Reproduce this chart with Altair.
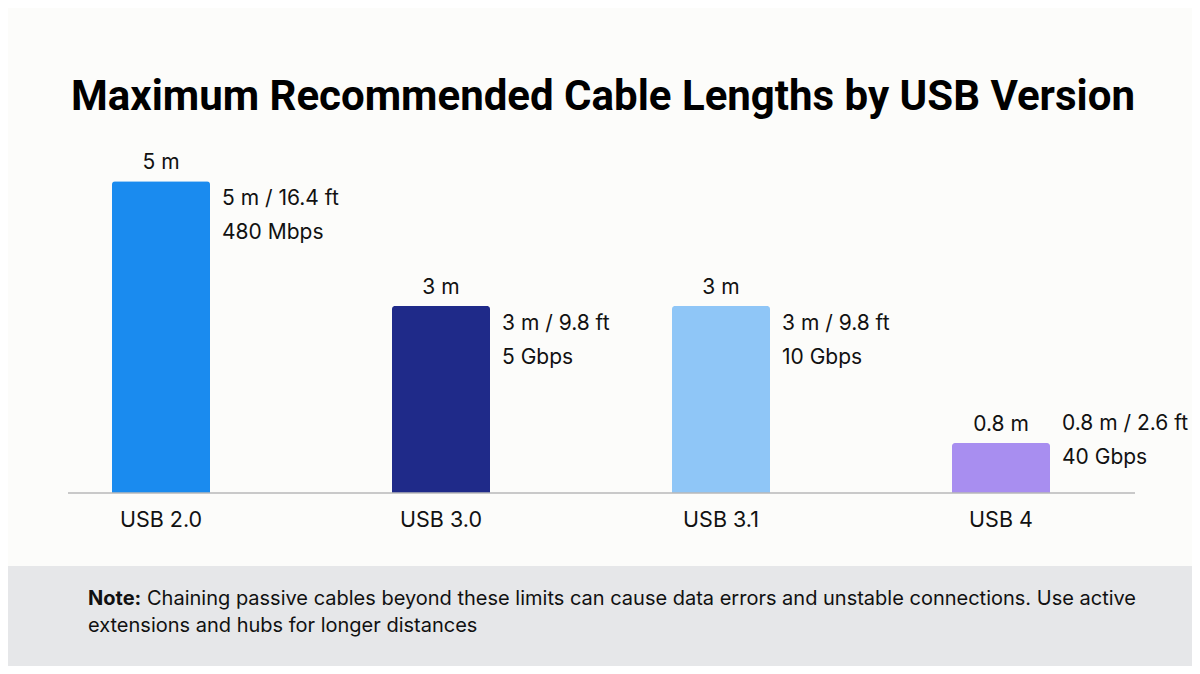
import altair as alt
import pandas as pd

# ---- data ----
versions = ["USB 2.0", "USB 3.0", "USB 3.1", "USB 4"]
lengths_m = [5, 3, 3, 0.8]
length_labels = ["5 m", "3 m", "3 m", "0.8 m"]
length_detail = ["5 m / 16.4 ft", "3 m / 9.8 ft", "3 m / 9.8 ft", "0.8 m / 2.6 ft"]
speeds = ["480 Mbps", "5 Gbps", "10 Gbps", "40 Gbps"]
bar_colors = ["#1a8bef", "#1f2a89", "#8fc6f7", "#a88ef0"]

title_text = "Maximum Recommended Cable Lengths by USB Version"
note_bold = "Note:"
note_line1 = ("Chaining passive cables beyond these limits can cause data errors "
              "and unstable connections. Use active")
note_line2 = "extensions and hubs for longer distances"

df = pd.DataFrame({
    "version": versions,
    "length": lengths_m,
    "label": length_labels,
    "detail": length_detail,
    "speed": speeds,
})

FONT = "Inter"
INK = "#111111"
W, H = 1120, 343

x = alt.X(
    "version:N", sort=versions,
    scale=alt.Scale(paddingInner=0.65, paddingOuter=0.325),
    axis=alt.Axis(title=None, domain=False, ticks=False, grid=False,
                  labelAngle=0, labelPadding=33, labelBaseline="alphabetic",
                  labelFont=FONT, labelFontSize=21.5, labelColor=INK),
)
y = alt.Y("length:Q", scale=alt.Scale(domain=[0, 5.5]), axis=None)

base = alt.Chart(df).encode(x=x, y=y)
# side annotations follow the bar top, but never sink into the axis line
ann = alt.Chart(df).transform_calculate(ann_y="max(datum.length, 1.4)").encode(
    x=x, y=alt.Y("ann_y:Q", scale=alt.Scale(domain=[0, 5.5]), axis=None)
)


def txt(s):
    return alt.Chart(pd.DataFrame({"t": [s]}))


band = txt("band").mark_rect(color="#e6e7e9").encode(
    x=alt.value(-13), x2=alt.value(1171), y=alt.value(416), y2=alt.value(516)
)

bars = base.mark_bar(cornerRadiusTopLeft=3, cornerRadiusTopRight=3).encode(
    color=alt.Color("version:N", scale=alt.Scale(domain=versions, range=bar_colors), legend=None)
)

baseline = txt("axis").mark_rule(color="#b8b8b8", strokeWidth=1.5).encode(
    x=alt.value(47), x2=alt.value(1114), y=alt.value(H)
)

top_labels = base.mark_text(baseline="alphabetic", dy=-12, font=FONT, fontSize=21, color=INK).encode(
    text="label:N"
)
detail_labels = ann.mark_text(align="left", baseline="alphabetic", dx=61, dy=24,
                              font=FONT, fontSize=21, color=INK).encode(text="detail:N")
speed_labels = ann.mark_text(align="left", baseline="alphabetic", dx=61, dy=58,
                             font=FONT, fontSize=21, color=INK).encode(text="speed:N")

title = txt(title_text).mark_text(align="center", baseline="alphabetic", font="Roboto",
                                  fontSize=42, fontWeight="bold", color="#000000").encode(
    x=alt.value(582), y=alt.value(-40), text="t:N"
)
note_b = txt(note_bold).mark_text(align="left", baseline="alphabetic", font=FONT,
                                  fontSize=20, fontWeight=700, color=INK).encode(
    x=alt.value(67), y=alt.value(455), text="t:N"
)
note_1 = txt(note_line1).mark_text(align="left", baseline="alphabetic", font=FONT,
                                   fontSize=20, color=INK).encode(
    x=alt.value(126), y=alt.value(455), text="t:N"
)
note_2 = txt(note_line2).mark_text(align="left", baseline="alphabetic", font=FONT,
                                   fontSize=20, color=INK).encode(
    x=alt.value(67), y=alt.value(482), text="t:N"
)

chart = alt.layer(
    band, bars, baseline, top_labels, detail_labels, speed_labels, title, note_b, note_1, note_2
).properties(
    width=W, height=H,
    autosize=alt.AutoSizeParams(type="none"),
    padding={"left": 13, "top": 142, "right": 51, "bottom": 173},
).configure(
    background="#fcfcfa"
).configure_view(strokeWidth=0)

chart.save("out.html", embed_options={"renderer": "svg", "actions": False})
